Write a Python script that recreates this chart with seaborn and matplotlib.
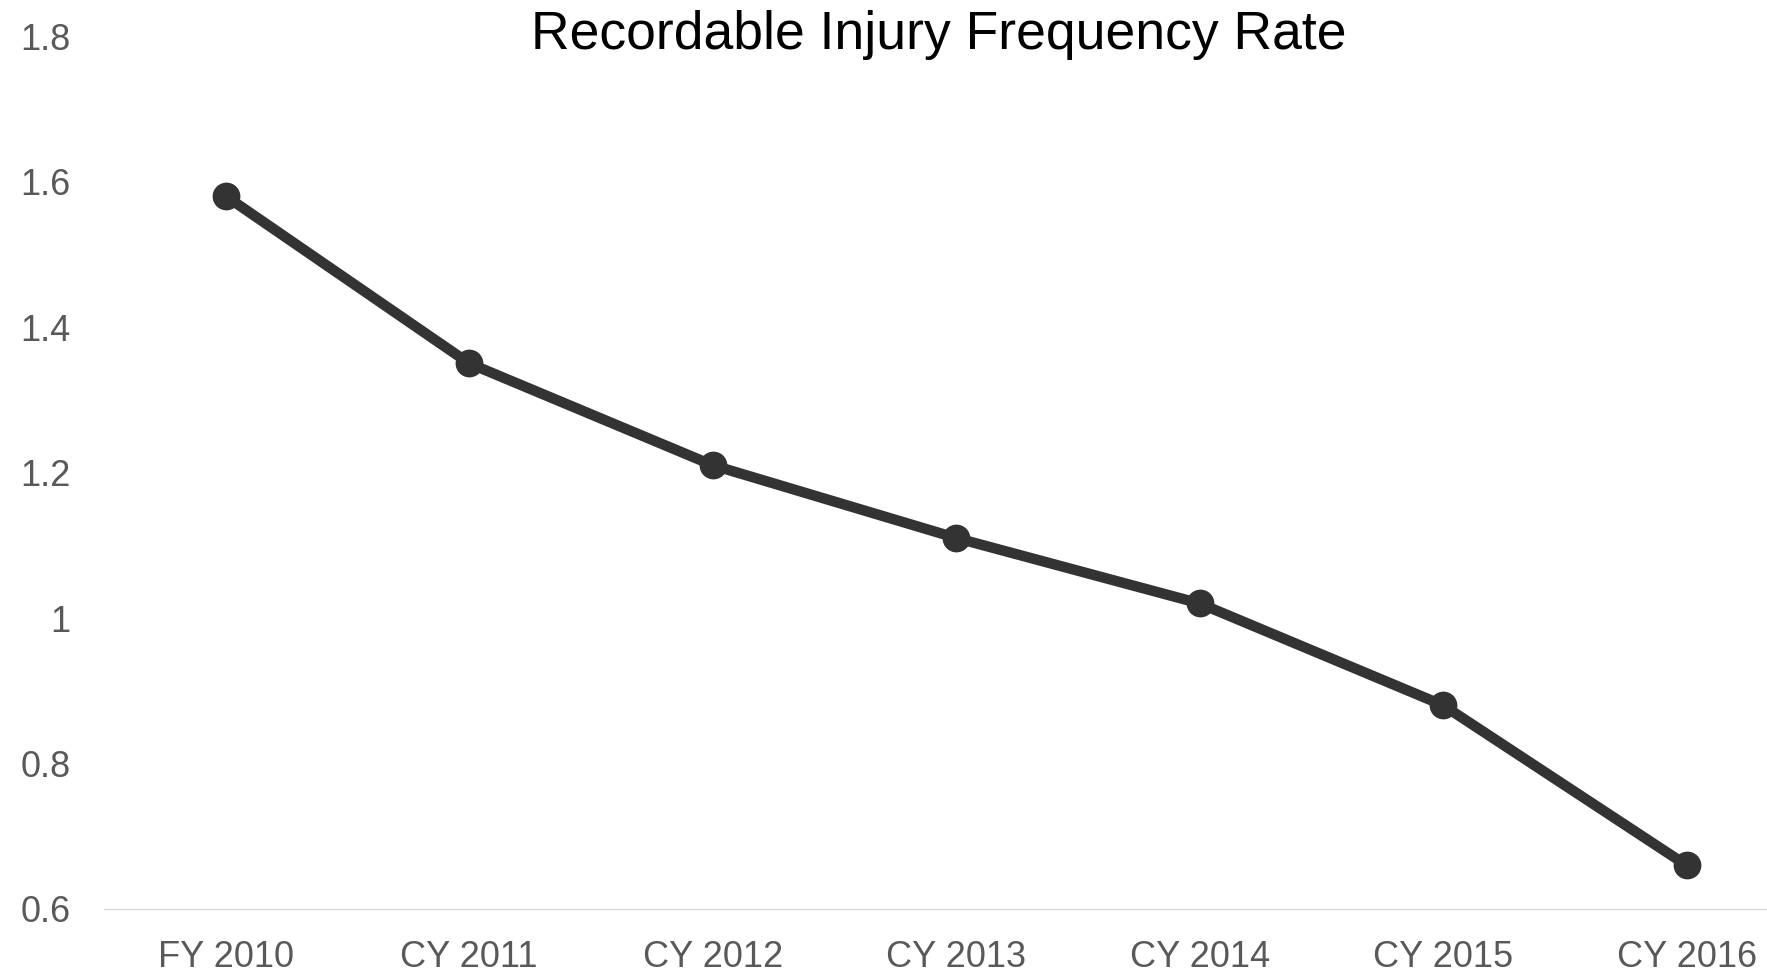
import matplotlib
matplotlib.use("Agg")
import matplotlib.pyplot as plt
import seaborn as sns
import pandas as pd

# chart data
years = ["FY 2010", "CY 2011", "CY 2012", "CY 2013", "CY 2014", "CY 2015", "CY 2016"]
rates = [1.58, 1.35, 1.21, 1.11, 1.02, 0.88, 0.66]
y_ticks = [0.6, 0.8, 1.0, 1.2, 1.4, 1.6, 1.8]
y_tick_labels = ["0.6", "0.8", "1", "1.2", "1.4", "1.6", "1.8"]

sns.set_style("white")
plt.rcParams["font.family"] = ["Liberation Sans", "DejaVu Sans"]

df = pd.DataFrame({"year": years, "rate": rates})

fig = plt.figure(figsize=(17.67, 9.74), dpi=100)
ax = fig.add_axes([104 / 1767, 65 / 974, 1 - 104 / 1767, 873 / 974])

sns.lineplot(data=df, x="year", y="rate", ax=ax, color="#333333",
             linewidth=7.5, marker="o", markersize=20,
             markeredgewidth=0, sort=False)

ax.set_xlim(-0.5, 6.33)
ax.set_ylim(0.6, 1.8)
ax.set_yticks(y_ticks)
ax.set_yticklabels(y_tick_labels)
ax.set_xlabel("")
ax.set_ylabel("")

for s in ["top", "right", "left"]:
    ax.spines[s].set_visible(False)
ax.spines["bottom"].set_color("#d9d9d9")
ax.spines["bottom"].set_linewidth(1)
ax.spines["bottom"].set_zorder(0)

ax.tick_params(axis="both", length=0, labelsize=26, labelcolor="#595959")
ax.tick_params(axis="y", pad=24)
ax.tick_params(axis="x", pad=22)

fig.text(939 / 1767, 1 - 35 / 974, "Recordable Injury Frequency Rate",
         ha="center", va="center", fontsize=38.5, color="black")

fig.savefig("out.png", dpi=100)
